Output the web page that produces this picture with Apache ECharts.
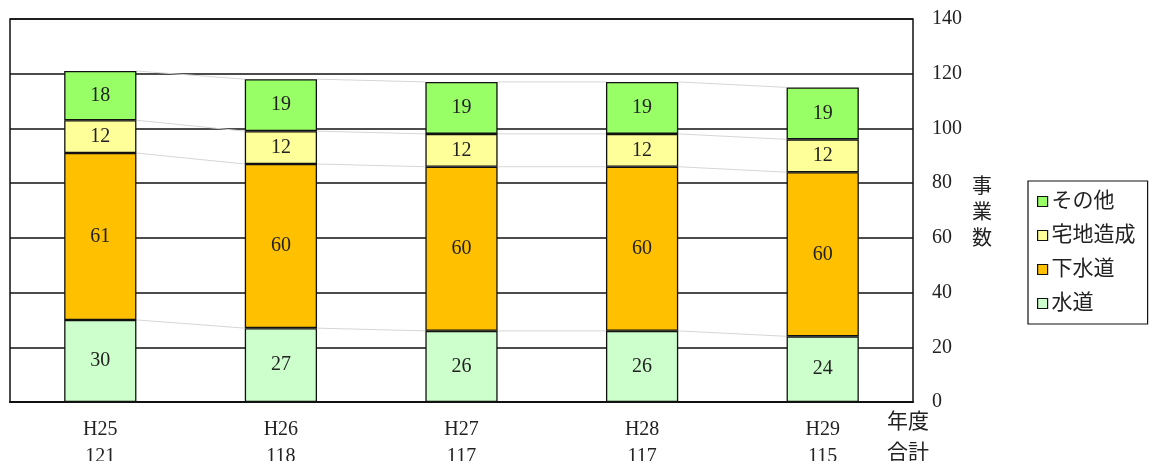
<!DOCTYPE html>
<html>
<head>
<meta charset="utf-8">
<script src="https://cdn.jsdelivr.net/npm/echarts@6/dist/echarts.min.js"></script>
<style>
  html, body { margin: 0; padding: 0; background: #fff; }
  #chart { width: 1151px; height: 461px; }
</style>
</head>
<body>
<div id="chart"></div>
<script>
// 年度別 事業数
const years = ['H25', 'H26', 'H27', 'H28', 'H29'];
const suido = [30, 27, 26, 26, 24];        // 水道
const gesuido = [61, 60, 60, 60, 60];      // 下水道
const takuchi = [12, 12, 12, 12, 12];      // 宅地造成
const sonota = [18, 19, 19, 19, 19];       // その他
const yTicks = [0, 20, 40, 60, 80, 100, 120, 140];

const FONT = '"Liberation Serif", "Noto Sans CJK JP", serif';
const stacks = [suido, gesuido, takuchi, sonota];
const totals = years.map((_, i) => stacks.reduce((s, arr) => s + arr[i], 0));
// cumulative boundaries for each category, used by the connector lines
const bounds = years.map((_, i) => {
  let acc = 0;
  return stacks.map(arr => (acc += arr[i]));
});
const BAR_RATIO = 0.4;

const labelStyle = {
  show: true, position: 'inside', color: '#222',
  fontFamily: FONT, fontSize: 20
};
function barSeries(name, data, color) {
  return {
    name, type: 'bar', stack: 'total', data,
    barWidth: (BAR_RATIO * 100) + '%',
    itemStyle: { color, borderColor: '#111', borderWidth: 1.3 },
    label: labelStyle
  };
}

const chart = echarts.init(document.getElementById('chart'));
chart.setOption({
  animation: false,
  grid: {
    left: 10, right: 238, top: 19, bottom: 59,
    containLabel: false, outerBoundsMode: 'none',
    show: true, borderColor: '#111', borderWidth: 1.5
  },
  xAxis: {
    type: 'category', data: years,
    axisLine: { lineStyle: { color: '#111', width: 2 } },
    axisTick: { show: false },
    axisLabel: {
      margin: 14, color: '#222', fontFamily: FONT, fontSize: 20, lineHeight: 27,
      formatter: (v, i) => v + '\n' + totals[i]
    }
  },
  yAxis: {
    type: 'value', position: 'right', min: 0, max: 140, interval: 20,
    axisLine: { show: false }, axisTick: { show: false },
    splitLine: { lineStyle: { color: '#111', width: 1.5 } },
    axisLabel: {
      margin: 19, color: '#222', fontFamily: FONT, fontSize: 20, align: 'left',
      lineHeight: 26, padding: [6, 0, 0, 0],
      formatter: v => (yTicks.includes(v) ? String(v) : '')
    }
  },
  legend: {
    orient: 'vertical', left: 1028, top: 181, width: 121,
    data: ['その他', '宅地造成', '下水道', '水道'],
    borderColor: '#111', borderWidth: 1.2, padding: [10, 12, 10, 9],
    itemWidth: 10, itemHeight: 10, itemGap: 13,
    icon: 'rect',
    textStyle: { fontFamily: FONT, fontSize: 21, lineHeight: 21, color: '#222', padding: [0, 0, 0, -1] },
    itemStyle: { borderColor: '#111', borderWidth: 1.2 }
  },
  graphic: [
    {
      type: 'text', left: 972, top: 175,
      style: { text: '事\n業\n数', fontFamily: FONT, fontSize: 20, lineHeight: 26, fill: '#222' }
    },
    {
      type: 'text', left: 887, top: 407,
      style: { text: '年度\n合計', fontFamily: FONT, fontSize: 21, lineHeight: 31, fill: '#222' }
    }
  ],
  series: [
    {
      // thin connectors between stack boundaries of neighbouring bars
      type: 'custom', silent: true, z: 1,
      data: years.slice(0, -1).map((_, i) => i),
      renderItem: (params, api) => {
        const i = api.value(0);
        const half = api.size([1, 0])[0] * BAR_RATIO / 2;
        const children = bounds[i].map((b, k) => {
          const p1 = api.coord([i, b]);
          const p2 = api.coord([i + 1, bounds[i + 1][k]]);
          return {
            type: 'line',
            shape: { x1: p1[0] + half, y1: p1[1], x2: p2[0] - half, y2: p2[1] },
            style: { stroke: '#d6d6d6', lineWidth: 1 }
          };
        });
        return { type: 'group', children };
      },
      encode: { x: 0 }
    },
    barSeries('水道', suido, '#CCFFCC'),
    barSeries('下水道', gesuido, '#FFC000'),
    barSeries('宅地造成', takuchi, '#FFFF99'),
    barSeries('その他', sonota, '#99FF66')
  ]
});
</script>
</body>
</html>
